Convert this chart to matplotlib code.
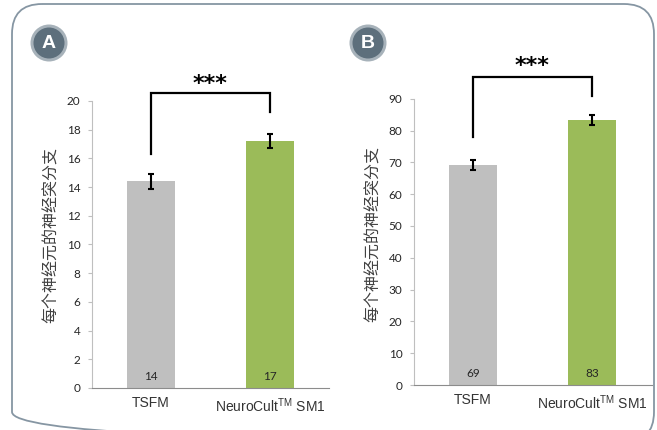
import matplotlib
matplotlib.use("Agg")
import matplotlib.pyplot as plt
from matplotlib.patches import FancyBboxPatch, Circle

categories = ["TSFM", "NeuroCult$^{\\mathregular{TM}}$ SM1"]
values_a = [14.4, 17.2]
errors_a = [0.5, 0.5]
labels_a = ["14", "17"]
values_b = [69.1, 83.2]
errors_b = [1.5, 1.6]
labels_b = ["69", "83"]
yticks_a = list(range(0, 21, 2))
yticks_b = list(range(0, 91, 10))
ylabel = "每个神经元的神经突分支"

W, H = 657, 430
fig = plt.figure(figsize=(W / 100, H / 100), dpi=100)
fig.patch.set_facecolor("white")
plt.rcParams["mathtext.fontset"] = "custom"
plt.rcParams["mathtext.rm"] = "Liberation Sans"

def px_axes(x0, x1, ytop, ybot):
    return fig.add_axes([x0 / W, 1 - ybot / H, (x1 - x0) / W, (ybot - ytop) / H])

# frame
frame_ax = fig.add_axes([0, 0, 1, 1])
frame_ax.set_xlim(0, W)
frame_ax.set_ylim(H, 0)
frame_ax.axis("off")
r = 30
frame_ax.add_patch(FancyBboxPatch((12 + r, 4 + r), 642 - 2 * r, 438 - 2 * r,
                                  boxstyle=f"round,pad={r}", fc="none",
                                  ec="#8696a3", lw=1.3, clip_on=True))

bar_colors = ["#bfbfbf", "#9bbb59"]
tick_font = "Lato"
cat_font = "Liberation Sans"
cjk = ["Noto Sans CJK SC", "DejaVu Sans"]

def draw_panel(ax, vals, errs, labs, yticks, ymax, bracket, star_y):
    x = range(len(categories))
    ax.bar(x, vals, width=0.40, color=bar_colors, zorder=2)
    ax.errorbar(x, vals, yerr=errs, fmt="none", ecolor="black", elinewidth=1.5,
                capsize=2.5, capthick=1.5, zorder=3)
    ax.set_xlim(-0.5, 1.5)
    ax.set_ylim(0, ymax)
    ax.set_yticks(yticks)
    ax.set_yticklabels([str(t) for t in yticks], fontsize=8.5, family=tick_font, color="#262626")
    ax.set_xticks(list(x))
    ax.set_xticklabels(categories, fontsize=10, family=cat_font, color="#333333")
    ax.tick_params(axis="x", length=0, pad=6)
    ax.tick_params(axis="y", length=3, color="#bfbfbf", pad=5)
    for s in ["top", "right"]:
        ax.spines[s].set_visible(False)
    ax.spines["left"].set_color("#bfbfbf")
    ax.spines["bottom"].set_color("#8c8c8c")
    for i, l in enumerate(labs):
        ax.annotate(l, (i, 0), xytext=(0, 8.5), textcoords="offset points",
                    ha="center", va="center", fontsize=8.5, family=tick_font, color="#262626")
    lb, top, rb = bracket
    ax.plot([0, 0, 1, 1], [lb, top, top, rb], color="black", lw=1.6, clip_on=False,
            solid_joinstyle="miter")
    ax.text(0.5, star_y, "***", ha="center", va="center", fontsize=16,
            fontweight="bold", color="black", family="DejaVu Sans")

ax_a = px_axes(91.5, 329.5, 101, 388)
draw_panel(ax_a, values_a, errors_a, labels_a, yticks_a, 20, (16.3, 20.55, 19.2), 21.2)
ax_b = px_axes(413.5, 651.5, 98.7, 385)
draw_panel(ax_b, values_b, errors_b, labels_b, yticks_b, 90, (77.9, 96.8, 90.9), 100.2)

for xc, yc in [(51, 235), (373, 234)]:
    fig.text(xc / W, 1 - yc / H, ylabel, rotation=90, ha="center", va="center",
             fontsize=11.5, family=cjk, color="#404040")

for xc, letter in [(49, "A"), (368, "B")]:
    frame_ax.add_patch(Circle((xc, 43), 18.5, fc="#a7b2ba", ec="none"))
    frame_ax.add_patch(Circle((xc, 43), 15.5, fc="#5d6f7c", ec="none"))
    frame_ax.text(xc, 44, letter, ha="center", va="center", fontsize=14,
                  fontweight="bold", color="white", family="Liberation Sans")

fig.savefig("out.png", dpi=100)
